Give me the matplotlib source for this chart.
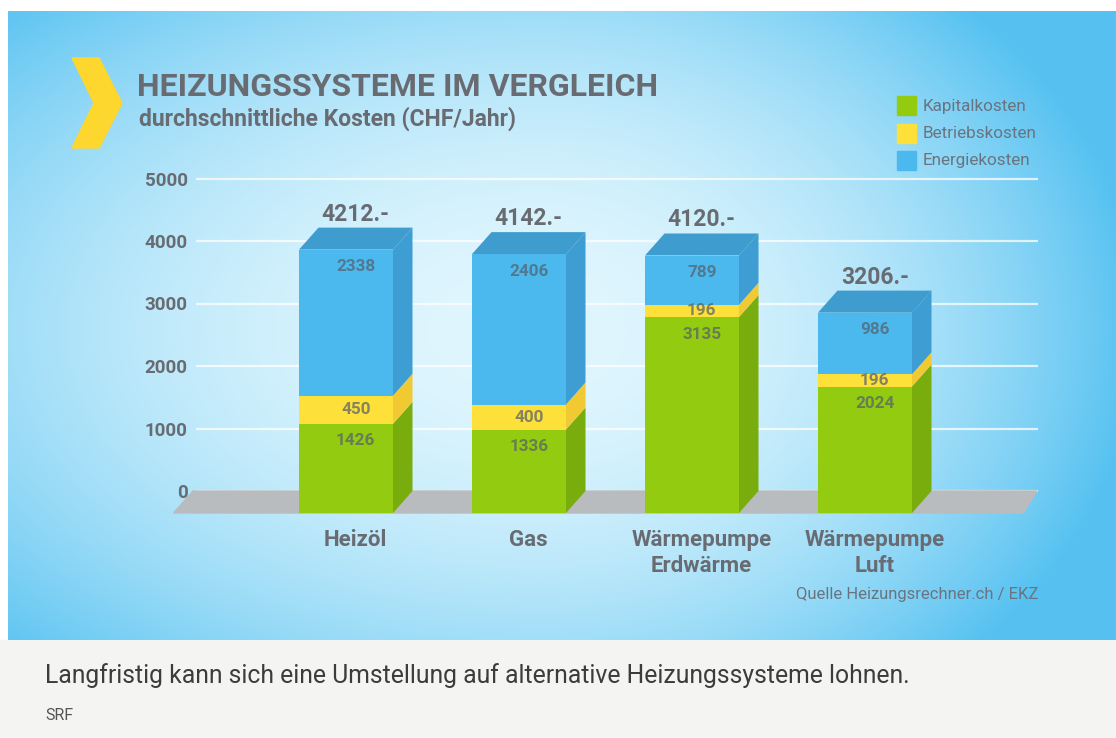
import numpy as np
import matplotlib
matplotlib.use("Agg")
import matplotlib.pyplot as plt
from matplotlib.patches import Polygon, Rectangle
from matplotlib import font_manager

# ---------------- data ----------------
categories = ["Heizöl", "Gas", "Wärmepumpe\nErdwärme", "Wärmepumpe\nLuft"]
kapitalkosten = [1426, 1336, 3135, 2024]
betriebskosten = [450, 400, 196, 196]
energiekosten = [2338, 2406, 789, 986]
totals = [4212, 4142, 4120, 3206]
series_names = ["Kapitalkosten", "Betriebskosten", "Energiekosten"]
y_ticks = [0, 1000, 2000, 3000, 4000, 5000]

title = "HEIZUNGSSYSTEME IM VERGLEICH"
subtitle = "durchschnittliche Kosten (CHF/Jahr)"
source = "Quelle Heizungsrechner.ch / EKZ"
caption = "Langfristig kann sich eine Umstellung auf alternative Heizungssysteme lohnen."
credit = "SRF"

# ---------------- style ----------------
def pick(*names):
    avail = {f.name for f in font_manager.fontManager.ttflist}
    for n in names:
        if n in avail:
            return n
    return "DejaVu Sans"

FONT = pick("Roboto", "Lato", "Open Sans", "DejaVu Sans")
plt.rcParams["font.family"] = [FONT, "DejaVu Sans"]

front_cols = ["#93cb10", "#fee03a", "#4bb9ee"]
side_cols = ["#79ad0e", "#f1ca33", "#3e9dd3"]
top_col = "#3f9ccf"
text_gray = "#686c72"

W, H = 1116, 738
fig = plt.figure(figsize=(W / 100, H / 100), dpi=100)
fig.patch.set_facecolor("white")

# background axes in pixel coordinates
bg = fig.add_axes([0, 0, 1, 1])
bg.set_xlim(0, W)
bg.set_ylim(H, 0)
bg.axis("off")

bg.add_patch(Rectangle((0, 640), W, H - 640, color="#f4f4f2", zorder=0))

# radial gradient panel
px0, px1, py0, py1 = 8, W, 11, 640
gx = np.linspace(px0, px1, 400)
gy = np.linspace(py0, py1, 240)
XX, YY = np.meshgrid(gx, gy)
rx = np.where(XX < 540, 780.0, 600.0)
r = np.sqrt(((XX - 540) / rx) ** 2 + ((YY - 330) / 460) ** 2)
t = np.clip(r, 0, 1) ** 2.0
c_in = np.array([0.88, 0.965, 0.995])
c_out = np.array([0.34, 0.76, 0.945])
img = c_in[None, None, :] * (1 - t[..., None]) + c_out[None, None, :] * t[..., None]
bg.imshow(img, extent=(px0, px1, py1, py0), aspect="auto", zorder=1, interpolation="bilinear")

# chevron
chev = Polygon([(72, 58), (99, 58), (122, 103), (99, 148), (72, 148), (94, 103)],
               closed=True, color="#fdd62e", zorder=2)
bg.add_patch(chev)

bg.text(137, 96, title, fontsize=23, fontweight="bold", color=text_gray,
        va="baseline", ha="left", zorder=3)
bg.text(139, 126, subtitle, fontsize=16.5, fontweight="bold", color=text_gray,
        va="baseline", ha="left", zorder=3)

# legend
for k, name in enumerate(series_names):
    yy = 96 + k * 27.5
    bg.add_patch(Rectangle((897, yy), 19, 19, color=front_cols[k], zorder=3))
    bg.text(923, yy + 10, name, fontsize=12.3, color="#6a7480", va="center",
            ha="left", zorder=3)

bg.text(1038, 595, source, fontsize=12, color="#6a7480", va="center",
        ha="right", zorder=3)

bg.text(45, 676, caption, fontsize=17.8, color="#3c3c3c", va="center", ha="left", zorder=3)
bg.text(45, 716, credit, fontsize=11.5, color="#555555", va="center", ha="left", zorder=3)

# ---------------- main chart axes ----------------
ax_left_px, ax_right_px = 196, 1100
ax_top_px, ax_bot_px = 140, 540
ax = fig.add_axes([ax_left_px / W, 1 - ax_bot_px / H,
                   (ax_right_px - ax_left_px) / W, (ax_bot_px - ax_top_px) / H])
ax.patch.set_alpha(0)
x0_px, step_px = 346, 173          # first bar centre and spacing in pixels
zero_px, per1000_px = 491, 62.5    # back-plane zero line and scale
ax.set_xlim((ax_left_px - x0_px) / step_px, (ax_right_px - x0_px) / step_px)
ax.set_ylim((zero_px - ax_bot_px) / per1000_px * 1000, (zero_px - ax_top_px) / per1000_px * 1000)
for s in ax.spines.values():
    s.set_visible(False)
ax.set_xticks([])
ax.set_yticks(y_ticks)
ax.set_yticklabels([str(v) for v in y_ticks])
ax.tick_params(axis="y", length=0, pad=6, labelsize=13.5, labelcolor=text_gray)
for lab in ax.get_yticklabels():
    lab.set_fontweight("bold")

DX = 19.5 / step_px           # depth in x data units
DY = 22 / per1000_px * 1000   # depth in y data units
BW = 94 / step_px             # bar width

x = np.arange(len(categories))
grid_l = (ax_left_px - x0_px) / step_px
grid_r = (1038 - x0_px) / step_px
ax.hlines(y_ticks, grid_l, grid_r, color="white", lw=1.6, alpha=0.75, zorder=1)

# floor
fl, fr = (193 - x0_px) / step_px, (1037 - x0_px) / step_px
ax.add_patch(Polygon([(fl, 0), (fr, 0), (fr - DX * 0.7, -DY), (fl - DX, -DY)],
                     closed=True, color="#b9bcbf", zorder=2, clip_on=False))

series = [kapitalkosten, betriebskosten, energiekosten]
bottoms = np.zeros(len(categories))
for k, vals in enumerate(series):
    vals = np.asarray(vals, dtype=float)
    ax.bar(x, vals, width=BW, bottom=bottoms - DY, color=front_cols[k],
           zorder=4, linewidth=0)
    for i in range(len(x)):
        b, tpos = bottoms[i], bottoms[i] + vals[i]
        xr = x[i] + BW / 2
        ax.add_patch(Polygon([(xr, b - DY), (xr + DX, b), (xr + DX, tpos), (xr, tpos - DY)],
                             closed=True, color=side_cols[k], zorder=3, lw=0))
    bottoms = bottoms + vals

# top faces
for i in range(len(x)):
    tpos = bottoms[i]
    xl, xr = x[i] - BW / 2, x[i] + BW / 2
    ax.add_patch(Polygon([(xl, tpos - DY), (xl + DX, tpos), (xr + DX, tpos), (xr, tpos - DY)],
                         closed=True, color=top_col, zorder=3, lw=0))

# value labels
lab_kw = dict(textcoords="offset pixels", ha="center", fontsize=12.3,
              fontweight="bold", color="#55606c", alpha=0.72, zorder=6)
cum = np.zeros(len(categories))
for k, vals in enumerate(series):
    for i, v in enumerate(vals):
        top_front = cum[i] + v - DY
        if k == 1:
            ax.annotate(str(v), (x[i] + DX / 2, cum[i] + v / 2 - DY), xytext=(0, 0),
                        va="center", **lab_kw)
        else:
            ax.annotate(str(v), (x[i] + DX / 2, top_front), xytext=(0, -17),
                        va="center", **lab_kw)
    cum = cum + np.asarray(vals)

for i, tot in enumerate(totals):
    ax.annotate(f"{tot}.-", (x[i] + DX / 2, bottoms[i]), xytext=(0, 7),
                textcoords="offset pixels", ha="center", va="baseline",
                fontsize=16.5, fontweight="bold", color=text_gray, zorder=6)

for i, cat in enumerate(categories):
    ax.annotate(cat, (x[i] + DX / 2, -DY), xytext=(0, -16),
                textcoords="offset pixels", ha="center", va="top",
                fontsize=16, fontweight="bold", color=text_gray,
                linespacing=1.25, zorder=6, annotation_clip=False)

fig.savefig("out.png", dpi=100)
